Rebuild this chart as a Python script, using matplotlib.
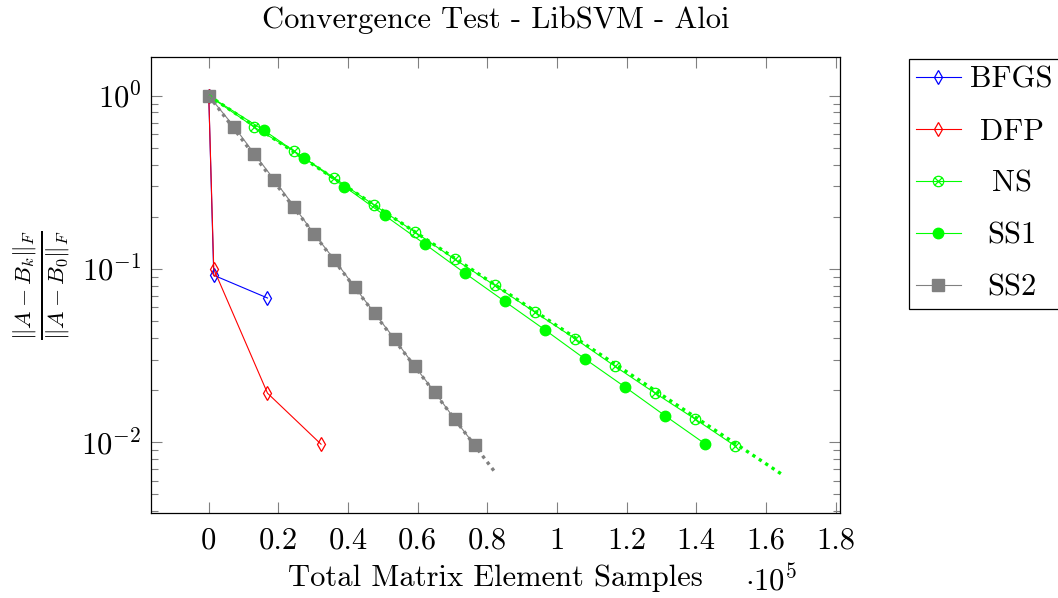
import numpy as np
import matplotlib
matplotlib.use("Agg")
import matplotlib.pyplot as plt
from matplotlib.path import Path
from matplotlib.ticker import FixedLocator, FuncFormatter, LogLocator, NullFormatter

# Fuente tipo LaTeX (Computer Modern incluida en matplotlib)
plt.rcParams['font.family'] = 'serif'
plt.rcParams['font.serif'] = ['cmr10']
plt.rcParams['mathtext.fontset'] = 'cm'
plt.rcParams['axes.formatter.use_mathtext'] = True
plt.rcParams['axes.unicode_minus'] = True

FS = 22

# Datos (x en unidades de 1e5 muestras)
bfgs_x = [0.0, 0.0144, 0.1687]
bfgs_y = [1.0, 0.092, 0.068]

dfp_x = [0.0, 0.0144, 0.1687, 0.3224]
dfp_y = [1.0, 0.0999, 0.0192, 0.00975]

ns_x = [0.0, 0.1304, 0.2456, 0.3607, 0.4758, 0.591, 0.706, 0.821, 0.936,
        1.052, 1.167, 1.282, 1.397, 1.512]
ns_y = [1.0, 0.659, 0.477, 0.335, 0.233, 0.164, 0.114, 0.0805, 0.0564,
        0.0396, 0.0274, 0.0192, 0.0136, 0.00952]

ss1_x = [0.0, 0.159, 0.2746, 0.3897, 0.505, 0.620, 0.735, 0.850, 0.965,
         1.080, 1.196, 1.311, 1.426]
ss1_y = [1.0, 0.630, 0.436, 0.299, 0.204, 0.1395, 0.0948, 0.0650, 0.0446,
         0.0303, 0.0208, 0.0142, 0.00977]

ss2_x = [0.0, 0.073, 0.131, 0.188, 0.246, 0.303, 0.361, 0.419, 0.476,
         0.534, 0.591, 0.649, 0.706, 0.764]
ss2_y = [1.0, 0.662, 0.462, 0.327, 0.228, 0.159, 0.113, 0.0787, 0.0557,
         0.0394, 0.0275, 0.0195, 0.0136, 0.00961]

# Tasas teóricas (líneas punteadas)
rate_ns_x = [0.0, 1.65]
rate_ns_y = [1.0, 0.00645]
rate_ss2_x = [0.0, 0.825]
rate_ss2_y = [1.0, 0.0066]

x_ticks = [0, 0.2, 0.4, 0.6, 0.8, 1.0, 1.2, 1.4, 1.6, 1.8]

# Marcador círculo con cruz (otimes)
r = np.sqrt(0.5)
cross = Path([(-r, -r), (r, r), (-r, r), (r, -r)],
             [Path.MOVETO, Path.LINETO, Path.MOVETO, Path.LINETO])
otimes = Path.make_compound_path(Path.unit_circle(), cross)

green = (0, 1, 0)
gray = (0.5, 0.5, 0.5)

fig = plt.figure(figsize=(10.58, 5.98), dpi=100)
ax = fig.add_axes([0.1430, 0.1416, 0.6507, 0.7626])

lw = 0.8
ax.plot(bfgs_x, bfgs_y, color='blue', lw=lw, marker='d', ms=7, mfc='none',
        mew=0.9, label='BFGS')
ax.plot(dfp_x, dfp_y, color='red', lw=lw, marker='d', ms=7, mfc='none',
        mew=0.9, label='DFP')
ax.plot(ns_x, ns_y, color=green, lw=lw, marker=otimes, ms=7.5, mfc='none',
        mew=0.9, label='NS')
ax.plot(ss1_x, ss1_y, color=green, lw=lw, marker='o', ms=7.5, mec=green,
        mfc=green, label='SS1')
ax.plot(ss2_x, ss2_y, color=gray, lw=lw, marker='s', ms=8, mec=gray,
        mfc=gray, label='SS2')

ax.plot(rate_ns_x, rate_ns_y, color=green, lw=2.4, ls=(0, (1, 1.3)))
ax.plot(rate_ss2_x, rate_ss2_y, color=gray, lw=2.4, ls=(0, (1, 1.3)))

ax.set_yscale('log')
ax.set_xlim(-0.165, 1.812)
ax.set_ylim(0.00389, 1.666)

ax.xaxis.set_major_locator(FixedLocator(x_ticks))
ax.xaxis.set_major_formatter(FuncFormatter(lambda v, p: f"{v:g}"))
ax.yaxis.set_major_locator(LogLocator(base=10, numticks=10))
ax.yaxis.set_minor_locator(LogLocator(base=10, subs=np.arange(2, 10), numticks=10))
ax.yaxis.set_minor_formatter(NullFormatter())

ax.tick_params(which='both', direction='in', top=True, right=True,
               color='0.5', width=0.8, labelsize=FS)
ax.tick_params(which='major', length=8, pad=10)
ax.tick_params(which='minor', length=5)
ax.tick_params(axis='y', pad=7)
for s in ax.spines.values():
    s.set_linewidth(0.9)

ax.set_title('Convergence Test - LibSVM - Aloi', fontsize=FS, pad=21)
ax.set_xlabel('Total Matrix Element Samples', fontsize=FS, labelpad=7)
ax.set_ylabel(r'$\frac{\|A-B_k\|_F}{\|A-B_0\|_F}$', fontsize=FS + 2, labelpad=6)
ax.text(0.9, -0.147, r'$\cdot 10^5$', transform=ax.transAxes,
        fontsize=FS, ha='center', va='center')

leg = ax.legend(loc='upper left', bbox_to_anchor=(1.1, 0.997), borderaxespad=0,
                fontsize=FS, frameon=True, fancybox=False, edgecolor='black',
                framealpha=1, handlelength=1.45, handletextpad=0.32,
                labelspacing=0.8, borderpad=0.25)
leg.get_frame().set_linewidth(0.9)

# Centrar los textos de la leyenda como en pgfplots
fig.canvas.draw()
widths = [t.get_window_extent().width for t in leg.get_texts()]
wmax = max(widths)
for t, w in zip(leg.get_texts(), widths):
    t.set_x((wmax - w) / 2)

fig.savefig('out.png', dpi=100)
